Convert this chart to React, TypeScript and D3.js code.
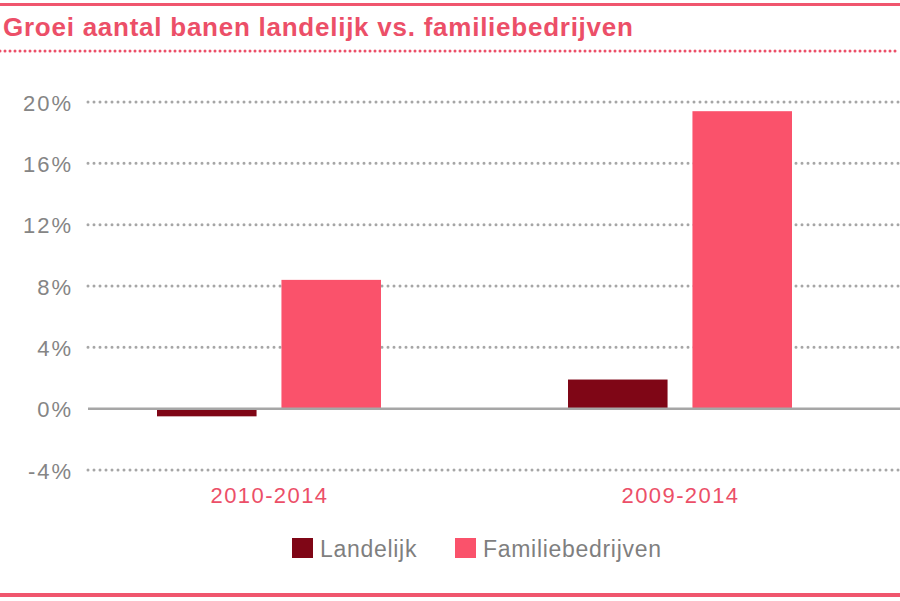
import React from "react";
import * as d3 from "d3";

const categories = ["2010-2014", "2009-2014"];
const seriesNames = ["Landelijk", "Familiebedrijven"];
const landelijk = [-0.5, 1.9];
const familie = [8.4, 19.4];
const yTicks = [-4, 0, 4, 8, 12, 16, 20];
const colors = ["#7f0616", "#fa526b"];
const TITLE = "Groei aantal banen landelijk vs. familiebedrijven";

export default function App() {
  const W = 900, H = 601;
  const font = "'Liberation Sans', Arial, Helvetica, sans-serif";
  const y = d3.scaleLinear().domain([-4, 20]).range([470, 102]);
  const x0 = d3.scaleBand<string>().domain(categories).range([64, 886]).padding(0);
  const x1 = d3.scaleBand<string>().domain(seriesNames).range([93, 317]).paddingInner(0.2).paddingOuter(0);
  const series = [landelijk, familie];
  const pink = "#ec4f68";
  return (
    <div style={{ position: "absolute", left: 0, top: 0, width: W, height: H, overflow: "hidden" }}>
      <svg width={W} height={H} style={{ display: "block" }} fontFamily={font}>
        <rect x={0} y={0} width={W} height={H} fill="#fff" />
        <line x1={0} x2={W} y1={4.5} y2={4.5} stroke="#f0566e" strokeWidth={3} />
        <text x={3} y={36} fontSize={26} fontWeight="bold" fill={pink} letterSpacing={0.75}>{TITLE}</text>
        <line x1={0} x2={W} y1={51} y2={51} stroke={pink} strokeWidth={3} strokeDasharray="0 5" strokeLinecap="round" />
        {yTicks.map((t) => (
          <g key={t}>
            {t !== 0 && (
              <line x1={88} x2={W} y1={y(t)} y2={y(t)} stroke="#a6a6a6" strokeWidth={3} strokeDasharray="0 6" strokeLinecap="round" />
            )}
            <text x={73} y={y(t) + 8.5} fontSize={22} fill="#858585" textAnchor="end" letterSpacing={2}>{t + "%"}</text>
          </g>
        ))}
        {categories.map((c, i) => (
          <g key={c}>
            {series.map((s, j) => {
              const v = s[i];
              const bx = (x0(c) as number) + (x1(seriesNames[j]) as number);
              return (
                <rect key={j} x={bx} width={x1.bandwidth()} y={y(Math.max(0, v))} height={Math.abs(y(v) - y(0))} fill={colors[j]} />
              );
            })}
            <text x={(x0(c) as number) + x0.bandwidth() / 2} y={503} fontSize={22} fill={pink} textAnchor="middle" letterSpacing={1.4}>{c}</text>
          </g>
        ))}
        <line x1={88} x2={W} y1={y(0)} y2={y(0)} stroke="#a6a6a6" strokeWidth={2.5} />
        <g>
          <rect x={292} y={538} width={21} height={20} fill={colors[0]} />
          <text x={320} y={557} fontSize={23} fill="#7f7f7f" letterSpacing={0.7}>{seriesNames[0]}</text>
          <rect x={455} y={538} width={21} height={20} fill={colors[1]} />
          <text x={483} y={557} fontSize={23} fill="#7f7f7f" letterSpacing={0.7}>{seriesNames[1]}</text>
        </g>
        <line x1={0} x2={W} y1={595} y2={595} stroke="#f0566e" strokeWidth={4} />
      </svg>
    </div>
  );
}
